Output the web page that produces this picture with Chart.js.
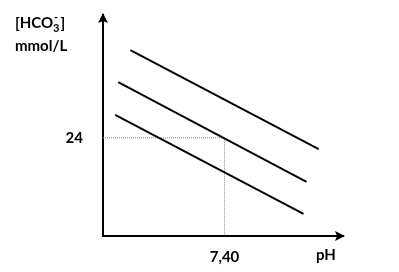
<!DOCTYPE html>
<html>
<head>
<meta charset="utf-8">
<script src="https://cdn.jsdelivr.net/npm/chart.js@4.4.1/dist/chart.umd.min.js"></script>
<style>
html,body{margin:0;padding:0;background:#fff;}
#wrap{width:399px;height:272px;position:relative;}
</style>
</head>
<body>
<div id="wrap"><canvas id="c" width="399" height="272"></canvas></div>
<script>
// Isobars of PCO2: each line given by two end points (pH, [HCO3-])
const lineHigh = [{x:7.09, y:45.4}, {x:7.71, y:21.2}];
const lineMid  = [{x:7.05, y:37.6}, {x:7.67, y:13.2}];
const lineLow  = [{x:7.04, y:29.6}, {x:7.66, y:5.4}];
// reference point guide
const guide = [{x:7.00, y:24}, {x:7.40, y:24}, {x:7.40, y:0}];
const xTickValues = [7.40];
const xTickLabels = ['7,40'];
const yTickValues = [24];
const yTickLabels = ['24'];
const xRange = [7.00, 7.79];
const yRange = [0, 54];

const FONT = 'Lato, "DejaVu Sans", sans-serif';

const arrowsAndLabels = {
  id: 'arrowsAndLabels',
  afterDraw(chart) {
    const ctx = chart.ctx;
    const a = chart.chartArea;
    ctx.save();
    ctx.fillStyle = '#000';
    // y arrow
    ctx.beginPath();
    ctx.moveTo(a.left, a.top - 2);
    ctx.lineTo(a.left - 5, a.top + 8);
    ctx.lineTo(a.left, a.top + 6);
    ctx.lineTo(a.left + 5, a.top + 8);
    ctx.closePath();
    ctx.fill();
    // x arrow
    ctx.beginPath();
    ctx.moveTo(a.right + 2, a.bottom);
    ctx.lineTo(a.right - 8, a.bottom - 5);
    ctx.lineTo(a.right - 6, a.bottom);
    ctx.lineTo(a.right - 8, a.bottom + 5);
    ctx.closePath();
    ctx.fill();
    // y title
    ctx.textBaseline = 'alphabetic';
    ctx.textAlign = 'left';
    ctx.font = 'bold 15px ' + FONT;
    let x = 15;
    const base = 28;
    ctx.fillText('[HCO', x, base);
    x += ctx.measureText('[HCO').width;
    ctx.font = 'bold 11px ' + FONT;
    ctx.fillText('3', x, base + 4);
    ctx.fillText('-', x + 1, base - 7);
    x += ctx.measureText('3').width + 1;
    ctx.font = 'bold 15px ' + FONT;
    ctx.fillText(']', x, base);
    ctx.fillText('mmol/L', 15, 51);
    // x title
    ctx.textAlign = 'center';
    ctx.fillText('pH', 326, 260);
    ctx.restore();
  }
};

new Chart(document.getElementById('c'), {
  type: 'line',
  data: {
    datasets: [
      {data: guide, borderColor: '#8a8a8a', borderWidth: 1, borderDash: [1, 1], pointRadius: 0, order: 2},
      {data: lineHigh, borderColor: '#000', borderWidth: 2, pointRadius: 0, order: 1},
      {data: lineMid,  borderColor: '#000', borderWidth: 2, pointRadius: 0, order: 1},
      {data: lineLow,  borderColor: '#000', borderWidth: 2, pointRadius: 0, order: 1}
    ]
  },
  options: {
    responsive: false,
    animation: false,
    devicePixelRatio: 1,
    layout: {padding: {left: 0, top: 15, right: 56, bottom: 0}},
    plugins: {legend: {display: false}, tooltip: {enabled: false}},
    scales: {
      x: {
        type: 'linear', min: xRange[0], max: xRange[1],
        grid: {display: false, drawTicks: false},
        border: {display: true, color: '#000', width: 2},
        afterBuildTicks: s => { s.ticks = xTickValues.map(v => ({value: v})); },
        afterFit: s => { s.height = 36; s.paddingLeft = 0; s.paddingRight = 0; },
        ticks: {
          padding: 12, color: '#000', maxRotation: 0,
          font: {family: FONT, size: 15, weight: 'bold'},
          callback: (v) => { const i = xTickValues.indexOf(v); return i >= 0 ? xTickLabels[i] : ''; }
        }
      },
      y: {
        type: 'linear', min: yRange[0], max: yRange[1],
        grid: {display: false, drawTicks: false},
        border: {display: true, color: '#000', width: 2},
        afterBuildTicks: s => { s.ticks = yTickValues.map(v => ({value: v})); },
        afterFit: s => { s.width = 103; s.paddingTop = 0; s.paddingBottom = 0; },
        ticks: {
          padding: 20, color: '#000',
          font: {family: FONT, size: 15, weight: 'bold'},
          callback: (v) => { const i = yTickValues.indexOf(v); return i >= 0 ? yTickLabels[i] : ''; }
        }
      }
    }
  },
  plugins: [arrowsAndLabels]
});
</script>
</body>
</html>
